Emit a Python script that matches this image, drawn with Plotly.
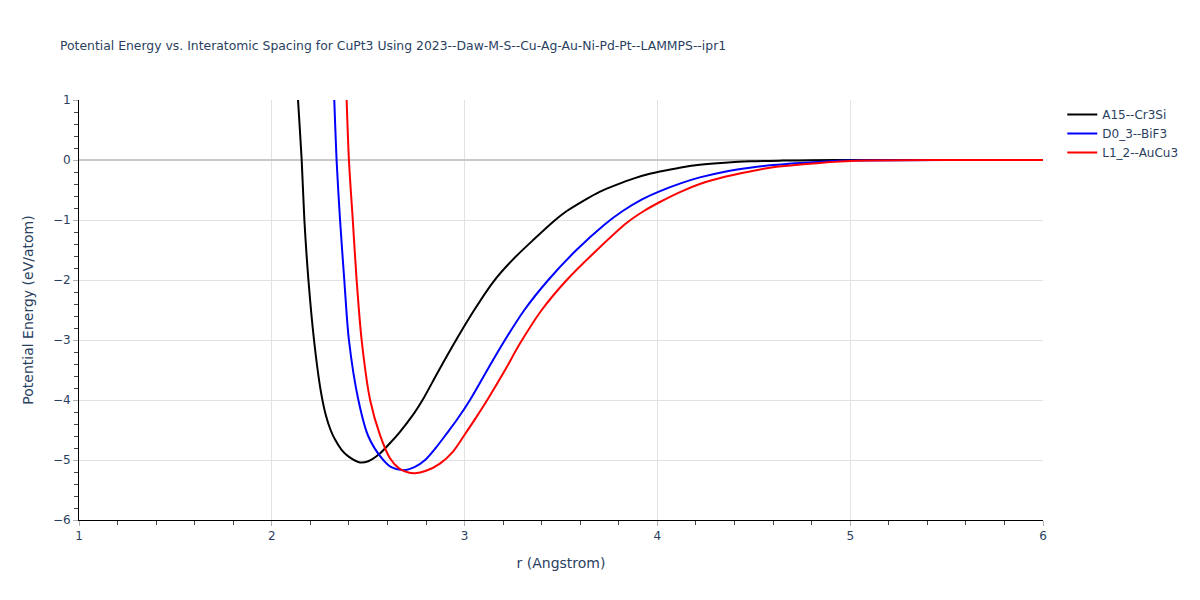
"""Potential energy vs. interatomic spacing curves for CuPt3"""
import plotly.graph_objects as go

# A15--Cr3Si
r_a15 = [2.12, 2.136, 2.155, 2.169, 2.19, 2.219, 2.253, 2.28, 2.305, 2.328, 2.362, 2.397, 2.457,
         2.50, 2.561, 2.61, 2.665, 2.734, 2.782, 2.864, 2.965, 3.05, 3.149, 3.25, 3.357, 3.47,
         3.53, 3.616, 3.70, 3.79, 3.875, 3.96, 4.048, 4.13, 4.22, 4.35, 4.48, 4.65, 4.8, 5.0,
         5.5, 6.0]
e_a15 = [1.85, 1.0, 0.0, -1.0, -2.0, -3.0, -3.83, -4.25, -4.5, -4.66, -4.83, -4.94, -5.04,
         -5.02, -4.89, -4.73, -4.53, -4.24, -4.0, -3.52, -2.95, -2.5, -2.03, -1.66, -1.33, -1.0,
         -0.85, -0.68, -0.53, -0.41, -0.31, -0.23, -0.17, -0.12, -0.08, -0.045, -0.022, -0.01,
         -0.004, -0.001, 0.0, 0.0]

# D0_3--BiF3
r_d03 = [2.31, 2.324, 2.336, 2.354, 2.376, 2.40, 2.449, 2.50, 2.57, 2.62, 2.682, 2.74, 2.795,
         2.85, 2.907, 2.96, 3.028, 3.123, 3.20, 3.31, 3.434, 3.58, 3.728, 3.82, 3.918, 4.005,
         4.12, 4.22, 4.35, 4.48, 4.6, 4.74, 4.87, 5.0, 5.5, 6.0]
e_d03 = [2.2, 1.0, 0.0, -1.0, -2.0, -3.0, -4.0, -4.6, -4.97, -5.12, -5.17, -5.12, -5.0,
         -4.8, -4.56, -4.33, -4.0, -3.47, -3.05, -2.5, -2.0, -1.5, -1.07, -0.85, -0.66, -0.53,
         -0.39, -0.29, -0.195, -0.13, -0.085, -0.05, -0.025, -0.01, 0.0, 0.0]

# L1_2--AuCu3
r_l12 = [2.375, 2.388, 2.40, 2.42, 2.44, 2.466, 2.51, 2.561, 2.613, 2.66, 2.70, 2.743, 2.80,
         2.872, 2.94, 3.0, 3.06, 3.123, 3.21, 3.287, 3.40, 3.53, 3.68, 3.84, 3.93, 4.013, 4.12,
         4.22, 4.35, 4.48, 4.6, 4.74, 4.87, 5.0, 5.5, 6.0]
e_l12 = [2.1, 1.0, 0.0, -1.0, -2.0, -3.0, -4.0, -4.58, -4.97, -5.14, -5.2, -5.22, -5.18,
         -5.06, -4.86, -4.58, -4.29, -3.97, -3.5, -3.06, -2.5, -2.0, -1.52, -1.05, -0.85, -0.7,
         -0.53, -0.40, -0.28, -0.19, -0.12, -0.075, -0.04, -0.015, -0.001, 0.0]

series = [
    ('A15--Cr3Si', r_a15, e_a15, 'black'),
    ('D0_3--BiF3', r_d03, e_d03, 'blue'),
    ('L1_2--AuCu3', r_l12, e_l12, 'red'),
]

fig = go.Figure()
for name, r, e, colour in series:
    fig.add_trace(go.Scatter(x=r, y=e, mode='lines', name=name,
                             line={'color': colour, 'width': 2, 'shape': 'spline',
                                   'smoothing': 0.8}))

axis_style = dict(
    showline=True, linecolor='black', linewidth=1,
    ticks='outside', tickcolor='#b0b0b0', ticklen=5,
    showgrid=True, gridcolor='#e2e2e2',
    minor=dict(ticks='outside', ticklen=4, tickcolor='#444', dtick=0.2, showgrid=False),
    tickfont=dict(size=12),
)

# the page has an 8px body margin, so the margins are shifted to keep the plot area in place
fig.update_layout(
    width=1200, height=600,
    template='plotly_white',
    font=dict(family='DejaVu Sans'),
    title=dict(text='Potential Energy vs. Interatomic Spacing for CuPt3 Using '
                    '2023--Daw-M-S--Cu-Ag-Au-Ni-Pd-Pt--LAMMPS--ipr1',
               x=0.0433, xanchor='left', y=0.938, yanchor='middle', font=dict(size=12.4)),
    xaxis=dict(title=dict(text='r (Angstrom)', font=dict(size=14)), range=[1, 6], dtick=1,
               zeroline=False, **axis_style),
    yaxis=dict(title=dict(text='Potential Energy (eV/atom)', font=dict(size=14)), range=[-6, 1],
               dtick=1, zeroline=True, zerolinecolor='#c8c8c8', zerolinewidth=2, **axis_style),
    legend=dict(font=dict(size=12)),
    margin=dict(l=71, r=165, t=92, b=88),
)

fig.write_html('out.html')
